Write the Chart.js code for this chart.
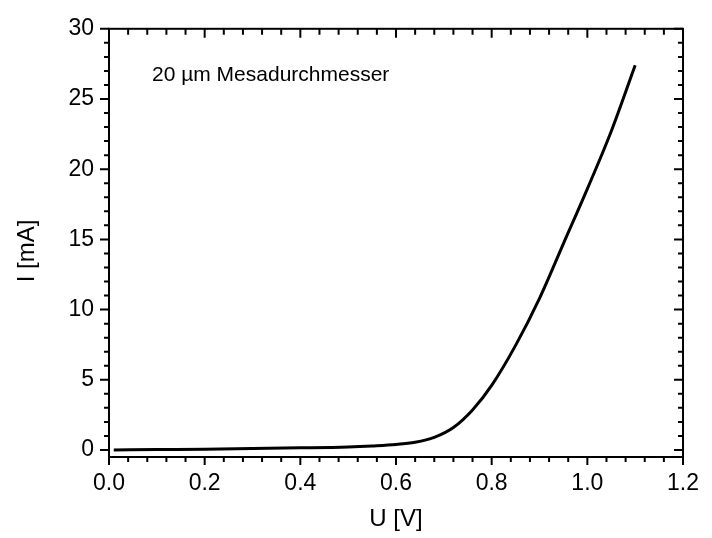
<!DOCTYPE html>
<html>
<head>
<meta charset="utf-8">
<script src="https://cdn.jsdelivr.net/npm/chart.js@4/dist/chart.umd.min.js"></script>
<style>
  body { margin: 0; background: #fff; }
</style>
</head>
<body>
<canvas id="myChart" width="712" height="538"></canvas>
<script>
// Kennlinie (U in V, I in mA)
var spannung = [0.01, 0.1, 0.2, 0.3, 0.4, 0.5, 0.55, 0.6, 0.64, 0.68, 0.72, 0.76, 0.8, 0.85, 0.9, 0.95, 1.0, 1.05, 1.1];
var strom    = [0.0, 0.03, 0.06, 0.1, 0.15, 0.22, 0.29, 0.39, 0.55, 0.9, 1.6, 2.85, 4.6, 7.45, 10.8, 14.7, 18.6, 22.7, 27.4];

var xTicks = [0, 0.2, 0.4, 0.6, 0.8, 1.0, 1.2];
var yTicks = [0, 5, 10, 15, 20, 25, 30];

var titelX = 'U [V]';
var titelY = 'I [mA]';
var notiz = '20 \u00b5m Mesadurchmesser';

var schrift = 'Arial, "Liberation Sans", sans-serif';

// Rahmen mit Haupt- und Nebenstrichen, Y-Titel und Notiz
var rahmen = {
    id: 'rahmen',
    afterDraw: function(chart) {
        var ctx = chart.ctx;
        var a = chart.chartArea;
        var x = chart.scales.x;
        var y = chart.scales.y;
        ctx.save();
        ctx.strokeStyle = '#000';
        ctx.lineWidth = 2;
        ctx.strokeRect(a.left, a.top, a.right - a.left, a.bottom - a.top);
        ctx.beginPath();
        // y: Nebenstriche alle 1 mA
        for (var i = 0; i <= 30; i++) {
            var py = y.getPixelForValue(i);
            var len = (i % 5 === 0) ? 9 : 5;
            ctx.moveTo(a.left - len, py); ctx.lineTo(a.left, py);
            ctx.moveTo(a.right, py); ctx.lineTo(a.right - len, py);
        }
        // x: Nebenstriche alle 0.04 V
        for (var j = 0; j <= 30; j++) {
            var px = x.getPixelForValue(j * 0.04);
            var lx = (j % 5 === 0) ? 8 : 5;
            ctx.moveTo(px, a.bottom); ctx.lineTo(px, a.bottom + lx);
            ctx.moveTo(px, a.top); ctx.lineTo(px, a.top + lx + 1);
        }
        ctx.stroke();

        ctx.fillStyle = '#000';
        ctx.font = '21px ' + schrift;
        ctx.textAlign = 'left';
        ctx.textBaseline = 'alphabetic';
        ctx.fillText(notiz, 152, 81);

        ctx.translate(27, 251);
        ctx.rotate(-Math.PI / 2);
        ctx.font = '24px ' + schrift;
        ctx.textAlign = 'center';
        ctx.textBaseline = 'middle';
        ctx.fillText(titelY, 0, 0);
        ctx.restore();
    }
};

var weiss = {
    id: 'weiss',
    beforeDraw: function(chart) {
        var ctx = chart.ctx;
        ctx.save();
        ctx.fillStyle = '#fff';
        ctx.fillRect(0, 0, chart.width, chart.height);
        ctx.restore();
    }
};

var ctx = document.getElementById('myChart').getContext('2d');
var chart = new Chart(ctx, {
    type: 'line',
    data: {
        datasets: [{
            data: spannung.map(function(u, i) { return {x: u, y: strom[i]}; }),
            borderColor: '#000',
            borderWidth: 3,
            pointRadius: 0,
            fill: false,
            cubicInterpolationMode: 'monotone'
        }]
    },
    options: {
        responsive: false,
        animation: false,
        layout: { padding: { top: 23, right: 20, left: 0, bottom: 0 } },
        plugins: { legend: { display: false }, tooltip: { enabled: false } },
        scales: {
            x: {
                type: 'linear',
                min: 0, max: 1.2,
                grid: { display: false, drawTicks: false },
                border: { display: false },
                afterFit: function(s) { s.height = 81; },
                afterBuildTicks: function(s) { s.ticks = xTicks.map(function(v) { return {value: v}; }); },
                ticks: {
                    padding: 13,
                    color: '#000',
                    font: { family: schrift, size: 23 },
                    maxRotation: 0,
                    callback: function(v) { return v.toFixed(1); }
                },
                title: { display: true, text: titelX, color: '#000', font: { family: schrift, size: 24 }, padding: { top: 0, bottom: 4 } }
            },
            y: {
                type: 'linear',
                min: -0.5, max: 30,
                grid: { display: false, drawTicks: false },
                border: { display: false },
                afterFit: function(s) { s.width = 109; },
                afterBuildTicks: function(s) { s.ticks = yTicks.map(function(v) { return {value: v}; }); },
                ticks: {
                    padding: 15,
                    color: '#000',
                    font: { family: schrift, size: 23 },
                    callback: function(v) { return String(v); }
                }
            }
        }
    },
    plugins: [weiss, rahmen]
});
</script>
</body>
</html>
